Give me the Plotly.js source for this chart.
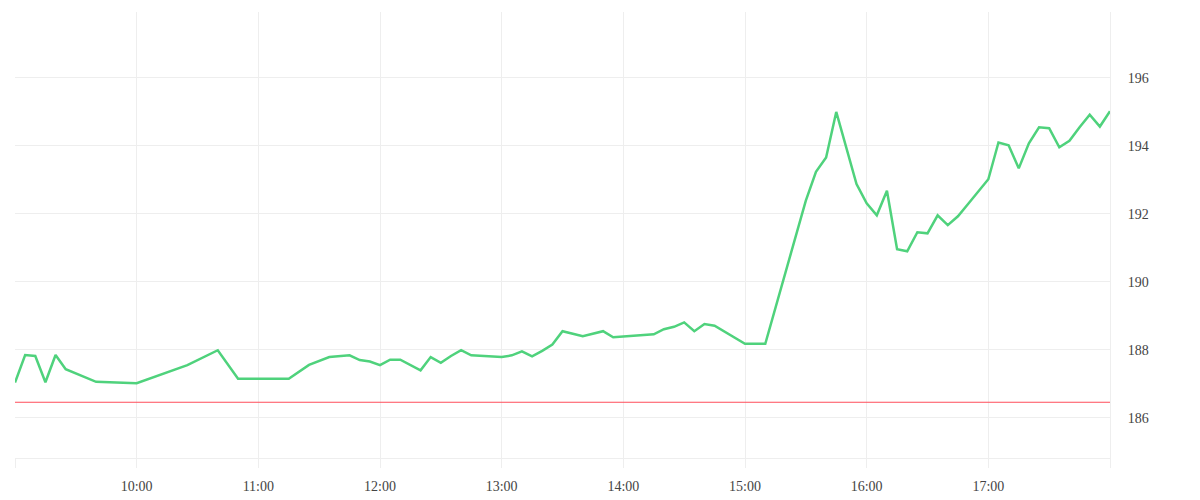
<!DOCTYPE html>
<html>
<head>
<meta charset="utf-8">
<script src="https://cdn.plot.ly/plotly-3.0.1.min.js"></script>
<style>
  html, body { margin: 0; padding: 0; background: #fff; }
  #chart { width: 1200px; height: 500px; }
</style>
</head>
<body>
<div id="chart"></div>
<script>
// Intraday price line (vertices), previous close in red.
const DAY = "2024-01-02 ";
const times = [
  "09:00", "09:05", "09:10", "09:15", "09:20", "09:25", "09:40", "10:00",
  "10:25", "10:40", "10:50", "11:15", "11:25", "11:35", "11:45", "11:50",
  "11:55", "12:00", "12:05", "12:10", "12:20", "12:25", "12:30", "12:35",
  "12:40", "12:45", "13:00", "13:05", "13:10", "13:15", "13:20", "13:25",
  "13:30", "13:40", "13:50", "13:55", "14:15", "14:20", "14:25", "14:30",
  "14:35", "14:40", "14:45", "15:00", "15:10", "15:30", "15:35", "15:40",
  "15:45", "15:50", "15:55", "16:00", "16:05", "16:10", "16:15", "16:20",
  "16:25", "16:30", "16:35", "16:40", "16:45", "16:50", "16:55", "17:00",
  "17:05", "17:10", "17:15", "17:20", "17:25", "17:30", "17:35", "17:40",
  "17:45", "17:50", "17:55", "18:00",
];
const prices = [
  187.04, 187.85, 187.82, 187.05, 187.85, 187.43, 187.06, 187.02,
  187.55, 187.99, 187.15, 187.15, 187.56, 187.79, 187.84, 187.70,
  187.66, 187.55, 187.71, 187.71, 187.40, 187.79, 187.62, 187.82,
  187.99, 187.84, 187.79, 187.84, 187.96, 187.81, 187.97, 188.16,
  188.55, 188.40, 188.55, 188.37, 188.46, 188.61, 188.68, 188.81,
  188.55, 188.76, 188.71, 188.18, 188.18, 192.39, 193.24, 193.66,
  195.00, 193.93, 192.88, 192.31, 191.96, 192.68, 190.96, 190.90,
  191.46, 191.43, 191.96, 191.67, 191.93, 192.29, 192.66, 193.02,
  194.10, 194.02, 193.34, 194.08, 194.55, 194.52, 193.96, 194.15,
  194.55, 194.92, 194.57, 195.02,
];
const prevClose = 186.46;
const hourTicks = ["09:00", "10:00", "11:00", "12:00", "13:00", "14:00", "15:00", "16:00", "17:00", "18:00"];
const hourLabels = ["", "10:00", "11:00", "12:00", "13:00", "14:00", "15:00", "16:00", "17:00", ""];
const yRange = [184.82, 197.94];

const GRID = "#eeeeee";
const x = times.map((t) => DAY + t);

const traces = [
  {
    type: "scatter",
    mode: "lines",
    x: [DAY + hourTicks[0], DAY + hourTicks[hourTicks.length - 1]],
    y: [prevClose, prevClose],
    line: { color: "#ff4d5b", width: 1 },
    hoverinfo: "skip",
  },
  {
    type: "scatter",
    mode: "lines",
    x,
    y: prices,
    line: { color: "#4fd27c", width: 2.5 },
  },
];

const layout = {
  width: 1200,
  height: 500,
  margin: { l: 15, r: 90, t: 12, b: 42 },
  paper_bgcolor: "#fff",
  plot_bgcolor: "#fff",
  showlegend: false,
  font: { family: "Liberation Serif, serif", size: 14, color: "#444" },
  xaxis: {
    type: "date",
    range: [DAY + hourTicks[0], DAY + hourTicks[hourTicks.length - 1]],
    tickmode: "array",
    tickvals: hourTicks.map((t) => DAY + t),
    ticktext: hourLabels,
    showgrid: true,
    gridcolor: GRID,
    gridwidth: 1,
    ticks: "outside",
    ticklen: 9,
    tickcolor: GRID,
    showline: true,
    linecolor: GRID,
    linewidth: 1,
    zeroline: false,
    ticklabelstandoff: 6,
  },
  yaxis: {
    side: "right",
    range: yRange,
    dtick: 2,
    tick0: 186,
    showgrid: true,
    gridcolor: GRID,
    gridwidth: 1,
    ticks: "",
    showline: true,
    linecolor: GRID,
    linewidth: 1,
    zeroline: false,
    ticklabelstandoff: 14,
  },
};

Plotly.newPlot("chart", traces, layout, { displayModeBar: false, staticPlot: true });
</script>
</body>
</html>
